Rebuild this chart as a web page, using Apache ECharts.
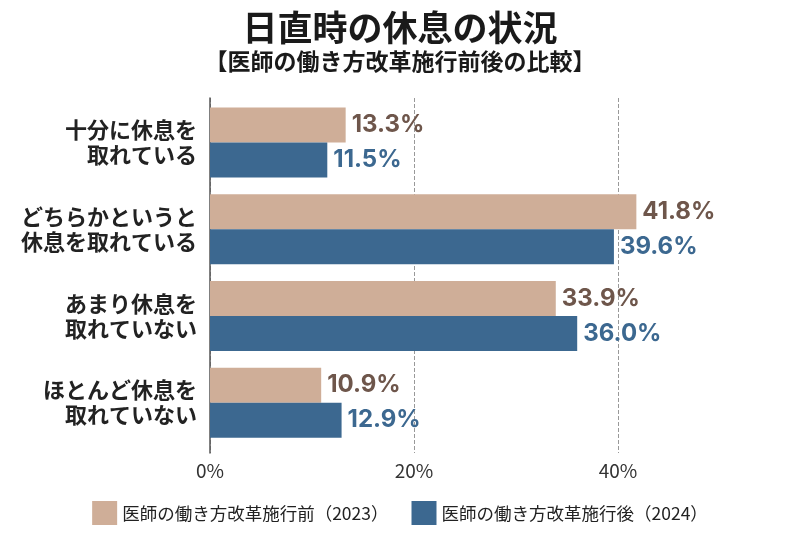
<!DOCTYPE html>
<html lang="ja">
<head>
  <meta charset="UTF-8">
  <title>日直時の休息の状況</title>
  <style>
    html, body { margin: 0; padding: 0; background: #fff; }
    #main { width: 800px; height: 546px; }
  </style>
  <script src="https://cdn.jsdelivr.net/npm/echarts@6/dist/echarts.min.js"></script>
</head>
<body>
  <div id="main"></div>
  <script>
    // 回答カテゴリ（上から順）
    var categories = [
      '十分に休息を\n取れている',
      'どちらかというと\n休息を取れている',
      'あまり休息を\n取れていない',
      'ほとんど休息を\n取れていない'
    ];
    var seriesNames = ['医師の働き方改革施行前（2023）', '医師の働き方改革施行後（2024）'];
    var before2023 = [13.3, 41.8, 33.9, 10.9];
    var after2024 = [11.5, 39.6, 36.0, 12.9];

    var jp = '"Noto Sans CJK JP", sans-serif';
    var num = 'Inter, "Noto Sans", sans-serif';

    var valueLabel = function (color) {
      return {
        show: true,
        position: 'right',
        distance: 6,
        formatter: function (p) { return p.value.toFixed(1) + '%'; },
        fontFamily: num,
        fontSize: 24,
        fontWeight: 'bold',
        color: color
      };
    };

    var chart = echarts.init(document.getElementById('main'));
    var option = {
      backgroundColor: '#fff',
      title: [
        {
          text: '日直時の休息の状況',
          left: 'center',
          top: 5,
          textStyle: { fontFamily: jp, fontSize: 35, fontWeight: 'bold', color: '#1a1a1a' }
        },
        {
          text: '【医師の働き方改革施行前後の比較】',
          left: 'center',
          top: 45,
          textStyle: { fontFamily: jp, fontSize: 23, fontWeight: 'bold', color: '#1a1a1a' }
        }
      ],
      legend: {
        bottom: 16,
        left: 'center',
        itemWidth: 25,
        itemHeight: 24,
        itemGap: 23,
        icon: 'rect',
        textStyle: { fontFamily: jp, fontSize: 17.5, color: '#222' },
        data: seriesNames
      },
      // grid 0: 棒グラフ本体 / grid 1: 軸線と目盛り（下に少し長い）
      // 60%目盛りは画面外に出して 0/20/40 だけ見せる
      grid: [
        { left: 210, width: 612, top: 99, bottom: 100, outerBoundsMode: 'none' },
        { left: 210, width: 612, top: 98, bottom: 93, outerBoundsMode: 'none' }
      ],
      xAxis: [
        {
          gridIndex: 0,
          type: 'value',
          min: 0,
          max: 60,
          interval: 20,
          show: false
        },
        {
          gridIndex: 1,
          type: 'value',
          min: 0,
          max: 60,
          interval: 20,
          axisLine: { show: false },
          axisTick: { show: false },
          axisLabel: {
            formatter: '{value}%',
            showMaxLabel: false,
            margin: 8,
            fontFamily: jp,
            fontSize: 19,
            color: '#333'
          },
          splitLine: { lineStyle: { type: 'dashed', color: '#999', width: 1 } }
        }
      ],
      yAxis: [
        {
          gridIndex: 0,
          type: 'category',
          inverse: true,
          data: categories,
          axisLine: { show: false },
          axisTick: { show: false },
          axisLabel: {
            margin: 13,
            fontFamily: jp,
            fontSize: 22,
            fontWeight: 'bold',
            lineHeight: 25,
            color: '#222',
            align: 'right'
          }
        },
        {
          gridIndex: 1,
          type: 'value',
          min: 0,
          max: 1,
          axisLine: { show: true, lineStyle: { color: '#555', width: 1.5 } },
          axisTick: { show: false },
          axisLabel: { show: false },
          splitLine: { show: false }
        }
      ],
      series: [
        {
          name: seriesNames[0],
          type: 'bar',
          xAxisIndex: 0,
          yAxisIndex: 0,
          data: before2023,
          barWidth: 35,
          barGap: '0%',
          itemStyle: { color: '#cfae98' },
          label: valueLabel('#6e564b')
        },
        {
          name: seriesNames[1],
          type: 'bar',
          xAxisIndex: 0,
          yAxisIndex: 0,
          data: after2024,
          barWidth: 35,
          barGap: '0%',
          itemStyle: { color: '#3c6890' },
          label: valueLabel('#3c6890')
        }
      ]
    };
    chart.setOption(option);
  </script>
</body>
</html>
